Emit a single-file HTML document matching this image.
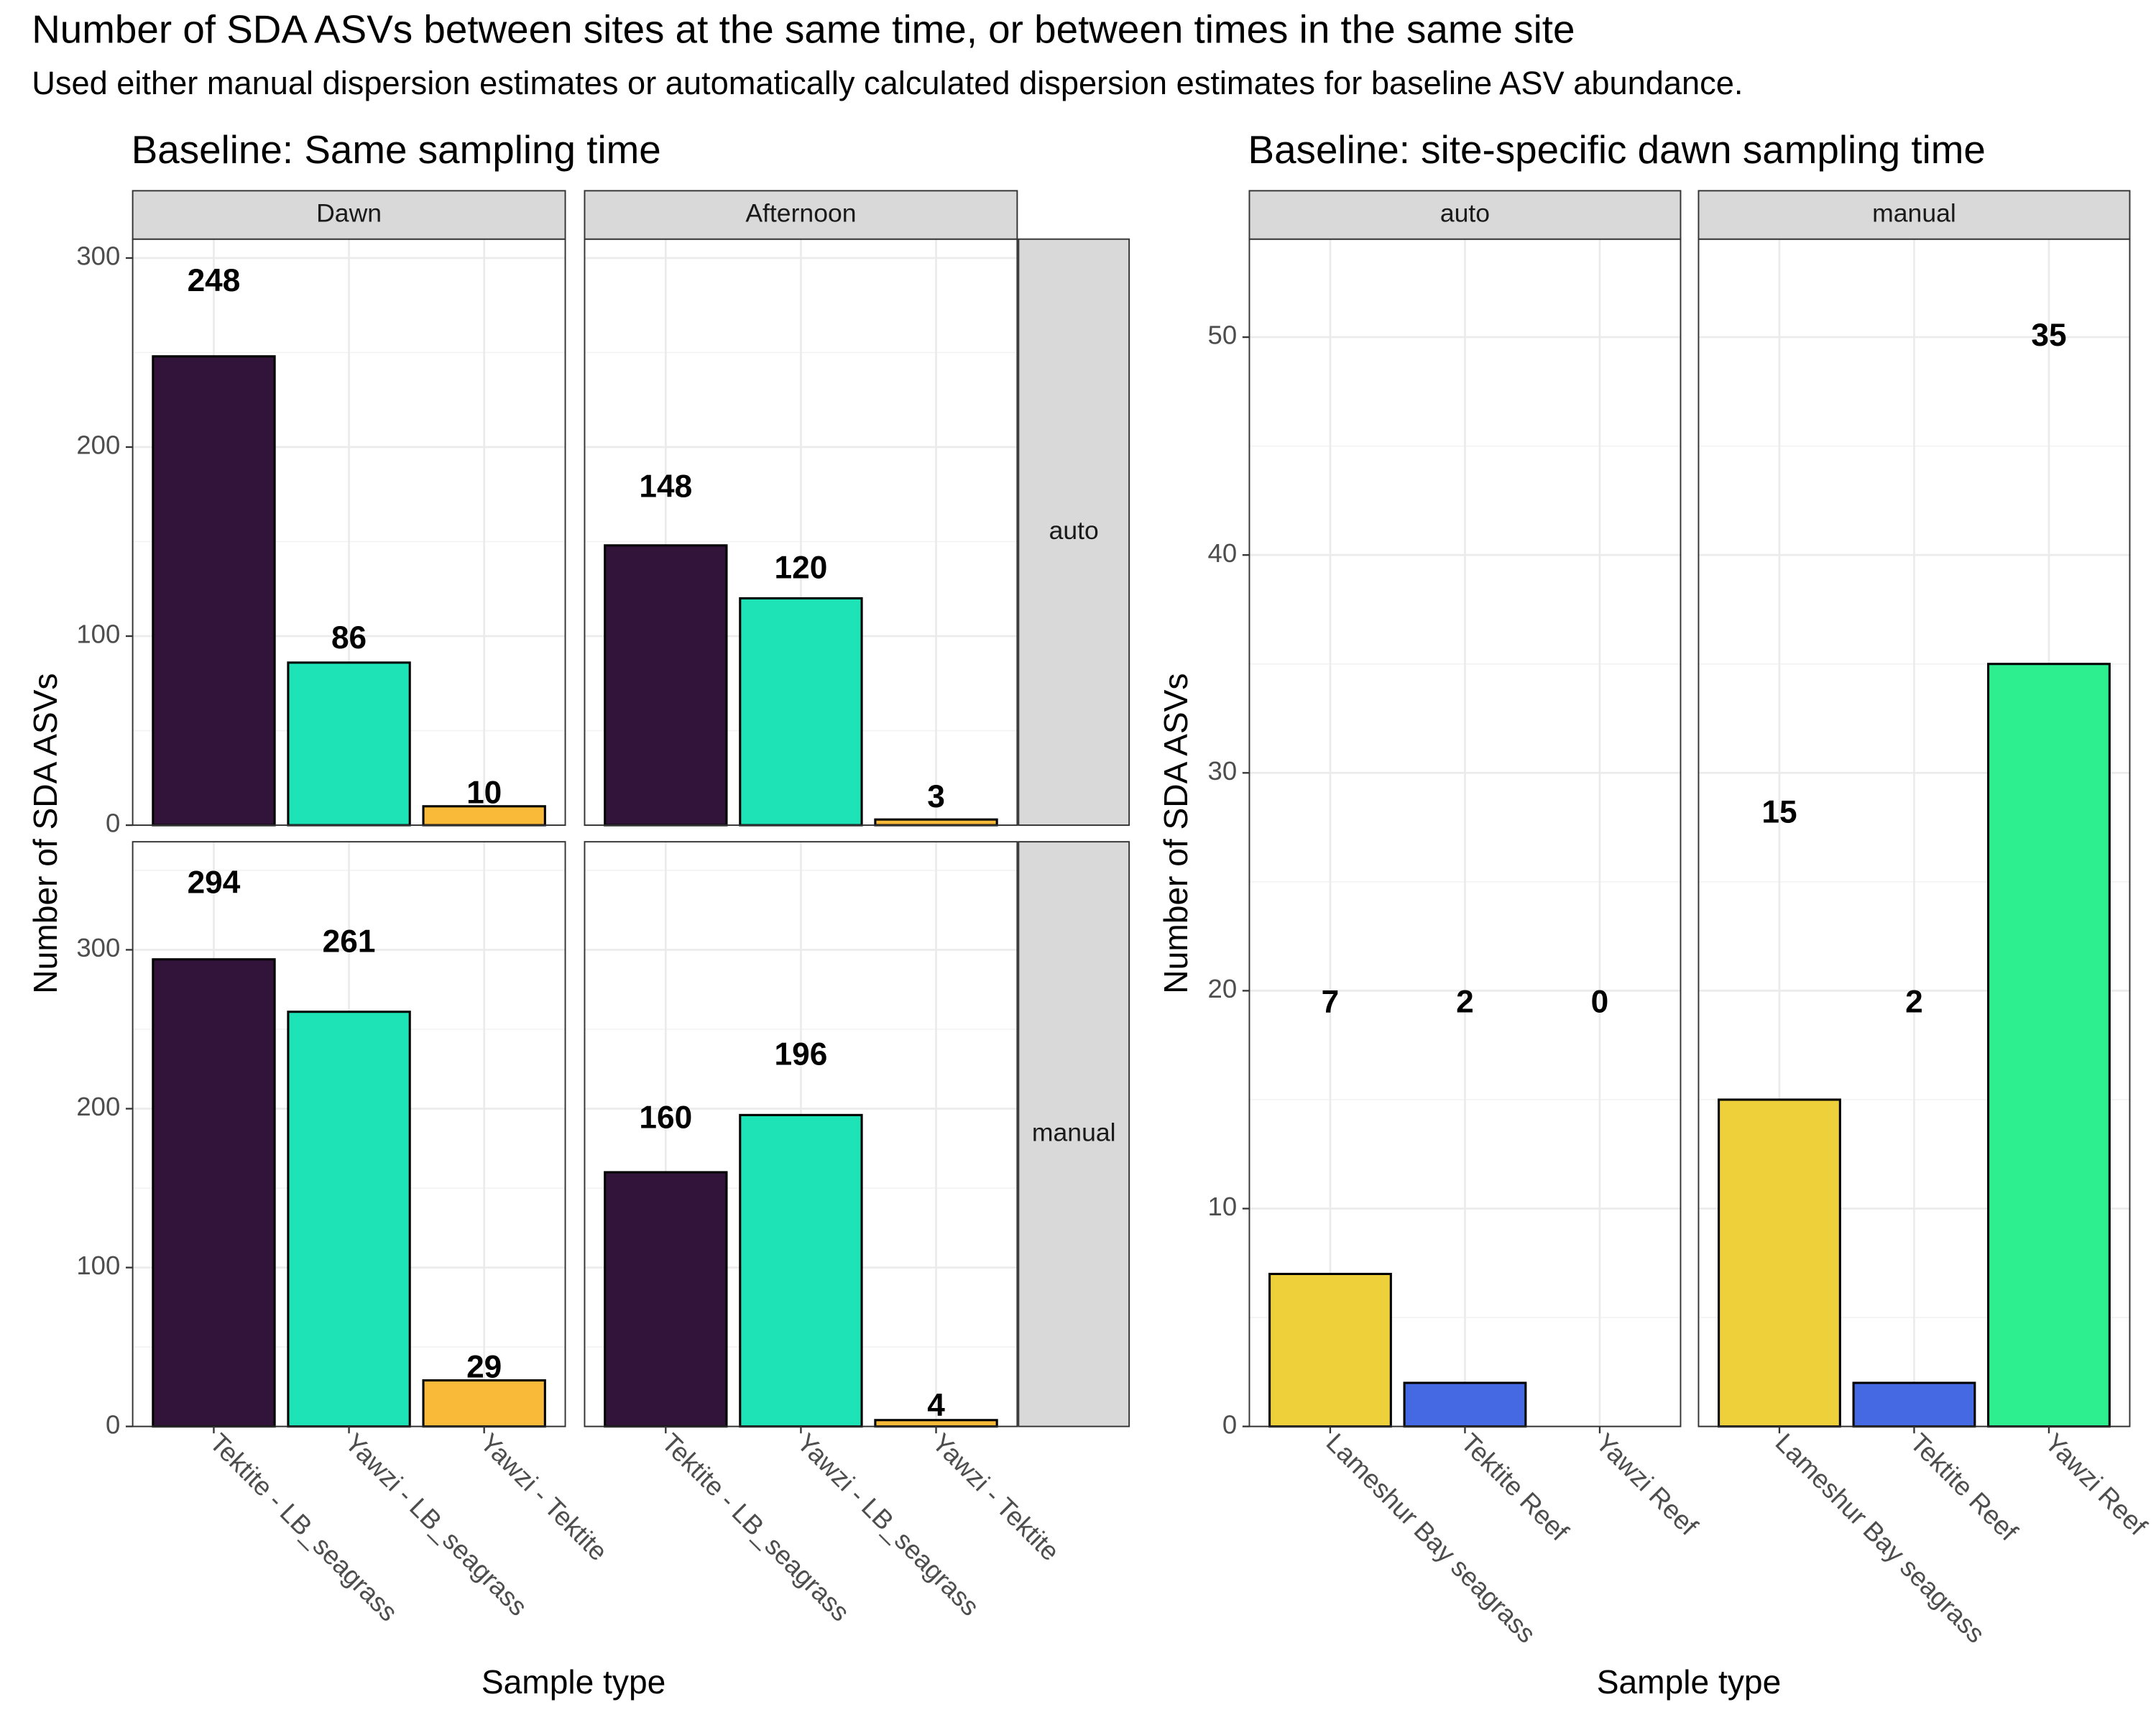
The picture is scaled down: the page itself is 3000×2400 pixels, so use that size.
<!DOCTYPE html>
<html><head><meta charset="utf-8"><style>
html,body{margin:0;padding:0;background:#fff;}
svg{display:block;font-family:"Liberation Sans",sans-serif;}
</style></head><body>
<svg id="c" width="3000" height="2400" viewBox="0 0 1560 1248" xmlns="http://www.w3.org/2000/svg">
<text x="23" y="31" font-size="28.5">Number of SDA ASVs between sites at the same time, or between times in the same site</text>
<text x="23" y="68" font-size="23.5">Used either manual dispersion estimates or automatically calculated dispersion estimates for baseline ASV abundance.</text>
<text x="95" y="118" font-size="28.5">Baseline: Same sampling time</text>
<text x="903" y="118" font-size="28.5">Baseline: site-specific dawn sampling time</text>
<text transform="translate(41,603) rotate(-90)" text-anchor="middle" font-size="24">Number of SDA ASVs</text>
<text transform="translate(859,603) rotate(-90)" text-anchor="middle" font-size="24">Number of SDA ASVs</text>
<text x="415" y="1225" text-anchor="middle" font-size="24">Sample type</text>
<text x="1222" y="1225" text-anchor="middle" font-size="24">Sample type</text>
</svg>
<script>
// ---- data ----
const leftCategories = ["Tektite - LB_seagrass", "Yawzi - LB_seagrass", "Yawzi - Tektite"];
const leftColors = ["#32143A", "#1DE3B6", "#F8BA38"];
const dawnAuto = [248, 86, 10];
const afternoonAuto = [148, 120, 3];
const dawnManual = [294, 261, 29];
const afternoonManual = [160, 196, 4];
const dawnAutoLabelY = [287, 98, 16];
const afternoonAutoLabelY = [178, 135, 14];
const dawnManualLabelY = [341, 304, 36];
const afternoonManualLabelY = [193, 233, 12];
const leftTicks = [0, 100, 200, 300];
const rightCategories = ["Lameshur Bay seagrass", "Tektite Reef", "Yawzi Reef"];
const rightColors = ["#EDD03A", "#4469E2", "#2EEF90"];
const siteAuto = [7, 2, 0];
const siteManual = [15, 2, 35];
const siteAutoLabelY = [19.4, 19.4, 19.4];
const siteManualLabelY = [28.1, 19.4, 50];
const rightTicks = [0, 10, 20, 30, 40, 50];

const svg = document.getElementById('c');
const NS = 'http://www.w3.org/2000/svg';
function mk(tag, attrs, parent) {
  const e = document.createElementNS(NS, tag);
  for (const k in attrs) e.setAttribute(k, attrs[k]);
  (parent || svg).appendChild(e);
  return e;
}

function panel(opts) {
  const {x0, x1, y0, y1, ymax, vals, labs, cats, colors, ticks, showY, showX, name} = opts;
  const g = mk('g', {});
  
  
  const ys = v => y1 - (v / ymax) * (y1 - y0);
  const step = (x1 - x0) / (cats.length + 0.2);
  const xs = i => x0 + step * (i + 0.6);
  mk('rect', {x: x0, y: y0, width: x1 - x0, height: y1 - y0, fill: '#fff'}, g);
  for (let i = 0; i < ticks.length; i++) {
    const mv = ticks[i] + (ticks[1] - ticks[0]) / 2;
    if (mv < ymax) mk('line', {x1: x0, x2: x1, y1: ys(mv), y2: ys(mv), stroke: '#F2F2F2', 'stroke-width': 0.8}, g);
  }
  ticks.forEach(t => { if (t <= ymax) mk('line', {x1: x0, x2: x1, y1: ys(t), y2: ys(t), stroke: '#EBEBEB', 'stroke-width': 1.4}, g); });
  cats.forEach((c, i) => mk('line', {x1: xs(i), x2: xs(i), y1: y0, y2: y1, stroke: '#EBEBEB', 'stroke-width': 1.4}, g));
  const bw = step * 0.9;
  vals.forEach((v, i) => {
    const r = mk('rect', {x: xs(i) - bw / 2, y: ys(v), width: bw, height: y1 - ys(v), fill: colors[i], stroke: '#000', 'stroke-width': 1.6}, g);
    
    
    const t = mk('text', {x: xs(i), y: ys(labs[i]), 'text-anchor': 'middle', 'dominant-baseline': 'middle', 'font-size': 23, 'font-weight': 'bold'}, g);
    t.textContent = v;
    
    
  });
  mk('rect', {x: x0, y: y0, width: x1 - x0, height: y1 - y0, fill: 'none', stroke: '#333', 'stroke-width': 1}, g);
  if (showY) {
    ticks.forEach(t => {
      if (t > ymax) return;
      mk('line', {x1: x0 - 5, x2: x0, y1: ys(t), y2: ys(t), stroke: '#333', 'stroke-width': 1.2}, g);
      const tl = mk('text', {x: x0 - 9, y: ys(t), 'text-anchor': 'end', 'dominant-baseline': 'middle', 'font-size': 19, fill: '#4D4D4D'}, g);
      tl.textContent = t;
      
      
    });
  }
  if (showX) {
    cats.forEach((c, i) => {
      mk('line', {x1: xs(i), x2: xs(i), y1: y1, y2: y1 + 5, stroke: '#333', 'stroke-width': 1.2}, g);
      const tl = mk('text', {transform: `translate(${xs(i) - 4},${y1 + 13}) rotate(45)`, 'text-anchor': 'start', 'font-size': 19, fill: '#4D4D4D'}, g);
      tl.textContent = c;
      
      
    });
  }
}
function strip(x, y, w, h, label, name) {
  const g = mk('g', {});
  
  
  mk('rect', {x, y, width: w, height: h, fill: '#D9D9D9', stroke: '#333', 'stroke-width': 1}, g);
  const t = mk('text', {x: x + w / 2, y: y + h / 2, 'text-anchor': 'middle', 'dominant-baseline': 'middle', 'font-size': 18.5, fill: '#1A1A1A'}, g);
  t.textContent = label;
}

const TOP = [173, 597], BOT = [609, 1032];
const DAWN = [96, 409], AFT = [423, 736];
panel({x0: DAWN[0], x1: DAWN[1], y0: TOP[0], y1: TOP[1], ymax: 310, vals: dawnAuto, labs: dawnAutoLabelY, cats: leftCategories, colors: leftColors, ticks: leftTicks, showY: true, showX: false, name: 'panel-dawn-auto'});
panel({x0: AFT[0], x1: AFT[1], y0: TOP[0], y1: TOP[1], ymax: 310, vals: afternoonAuto, labs: afternoonAutoLabelY, cats: leftCategories, colors: leftColors, ticks: leftTicks, showY: false, showX: false, name: 'panel-afternoon-auto'});
panel({x0: DAWN[0], x1: DAWN[1], y0: BOT[0], y1: BOT[1], ymax: 368, vals: dawnManual, labs: dawnManualLabelY, cats: leftCategories, colors: leftColors, ticks: leftTicks, showY: true, showX: true, name: 'panel-dawn-manual'});
panel({x0: AFT[0], x1: AFT[1], y0: BOT[0], y1: BOT[1], ymax: 368, vals: afternoonManual, labs: afternoonManualLabelY, cats: leftCategories, colors: leftColors, ticks: leftTicks, showY: false, showX: true, name: 'panel-afternoon-manual'});
strip(DAWN[0], 138, DAWN[1] - DAWN[0], 35, 'Dawn', 'strip-dawn');
strip(AFT[0], 138, AFT[1] - AFT[0], 35, 'Afternoon', 'strip-afternoon');
strip(737, TOP[0], 80, TOP[1] - TOP[0], 'auto', 'strip-auto-row');
strip(737, BOT[0], 80, BOT[1] - BOT[0], 'manual', 'strip-manual-row');

const RA = [904, 1216], RM = [1229, 1541];
panel({x0: RA[0], x1: RA[1], y0: 173, y1: 1032, ymax: 54.5, vals: siteAuto, labs: siteAutoLabelY, cats: rightCategories, colors: rightColors, ticks: rightTicks, showY: true, showX: true, name: 'panel-site-auto'});
panel({x0: RM[0], x1: RM[1], y0: 173, y1: 1032, ymax: 54.5, vals: siteManual, labs: siteManualLabelY, cats: rightCategories, colors: rightColors, ticks: rightTicks, showY: false, showX: true, name: 'panel-site-manual'});
strip(RA[0], 138, RA[1] - RA[0], 35, 'auto', 'strip-site-auto');
strip(RM[0], 138, RM[1] - RM[0], 35, 'manual', 'strip-site-manual');
</script>
</body></html>
